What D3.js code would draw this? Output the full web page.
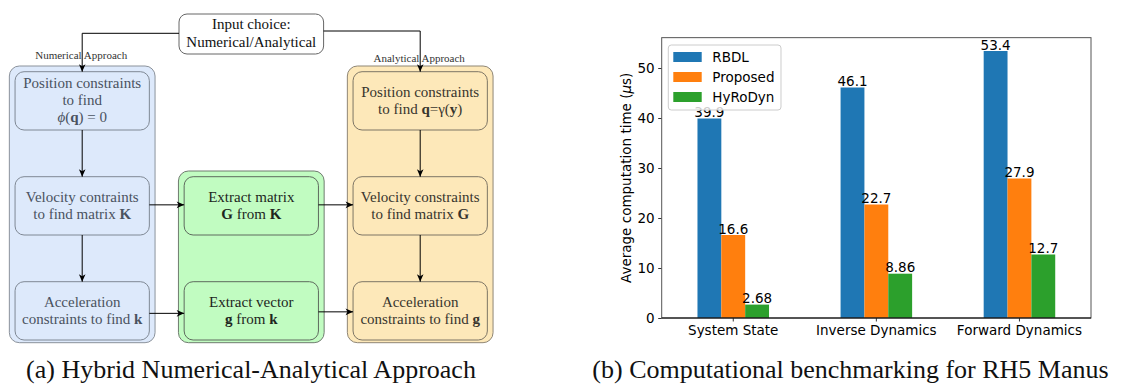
<!DOCTYPE html>
<html>
<head>
<meta charset="utf-8">
<script src="https://cdn.jsdelivr.net/npm/d3@7"></script>
<style>
body {
	margin: 0;
	background: white;
}
svg {
	display: block;
}
.diag text, .caption {
	font-family: "Liberation Serif", "Times New Roman", serif;
	fill: #111;
}
.chart text {
	font-family: "DejaVu Sans", sans-serif;
	fill: #000;
}
</style>
</head>
<body>
<div id="fig"></div>
<script>

// -- chart data

const categories = ["System State", "Inverse Dynamics", "Forward Dynamics"];
const seriesNames = ["RBDL", "Proposed", "HyRoDyn"];
const rbdl = [39.9, 46.1, 53.4];
const proposed = [16.6, 22.7, 27.9];
const hyrodyn = [2.68, 8.86, 12.7];
const yTicks = [0, 10, 20, 30, 40, 50];
const seriesColors = ["#1f77b4", "#ff7f0e", "#2ca02c"];

// -- diagram data (*bold*, _italic_)

const columns = ["numerical", "extract", "analytical"];
const numericalSteps = [
	["Position constraints", "to find", "_ϕ_(*q*) = 0"],
	["Velocity contraints", "to find matrix *K*"],
	["Acceleration", "constraints to find *k*"],
];
const extractSteps = [
	null,
	["Extract matrix", "*G* from *K*"],
	["Extract vector", "*g* from *k*"],
];
const analyticalSteps = [
	["Position constraints", "to find *q*=γ(*y*)"],
	["Velocity constraints", "to find matrix *G*"],
	["Acceleration", "constraints to find *g*"],
];
const inputLines = ["Input choice:", "Numerical/Analytical"];
const branchLabels = ["Numerical Approach", "Analytical Approach"];
const captions = ["(a) Hybrid Numerical-Analytical Approach", "(b) Computational benchmarking for RH5 Manus"];

const W = 1124, H = 387;

var svg = d3.select("#fig")
	.append("svg")
		.attr("width", W)
		.attr("height", H);

svg.append("rect")
	.attr("width", W)
	.attr("height", H)
	.attr("fill", "white");

// -- diagram

var diag = svg.append("g").attr("class", "diag");

var colX = d3.scaleOrdinal().domain(columns).range([82.2, 251.3, 420.2]);
var rowY = d3.scaleLinear().domain([0, 2]).range([71.7, 281.7]);
const boxW = 134.3, boxH = 58.3;
const fontSize = 15;

var palette = {
	numerical: {fill: "#dde9fb", outer: "#8b929b", inner: "#7f8894", text: "#4a5260"},
	extract: {fill: "#c1fcc1", outer: "#6f7c6f", inner: "#5e6a5e", text: "#1d261d"},
	analytical: {fill: "#fde8b9", outer: "#8f8675", inner: "#7d7565", text: "#38352e"},
};

var defs = svg.append("defs");
defs.append("marker")
	.attr("id", "arrow")
	.attr("viewBox", "-8 -4 9 8")
	.attr("refX", 0)
	.attr("refY", 0)
	.attr("markerWidth", 9)
	.attr("markerHeight", 8)
	.attr("markerUnits", "userSpaceOnUse")
	.attr("orient", "auto")
	.append("path")
		.attr("d", "M-7.5,-3.3 L0,0 L-7.5,3.3 L-5.5,0 Z")
		.attr("fill", "#000");

function addRich(textSel, str) {
	str.split(/(\*[^*]+\*|_[^_]+_)/).filter(s => s.length).forEach(function(part) {
		var t = textSel.append("tspan");
		if (part[0] == "*") {
			t.attr("font-weight", "bold").text(part.slice(1, -1));
		} else if (part[0] == "_") {
			t.attr("font-style", "italic").text(part.slice(1, -1));
		} else {
			t.text(part);
		}
	});
}

function drawLines(g, lines, cx, cy, color) {
	lines.forEach(function(line, i) {
		var t = g.append("text")
			.attr("x", cx)
			.attr("y", cy + (i - (lines.length - 1) / 2) * 17 + 4.5)
			.attr("text-anchor", "middle")
			.attr("font-size", fontSize)
			.style("fill", color);
		addRich(t, line);
	});
}

var stepsByCol = {numerical: numericalSteps, extract: extractSteps, analytical: analyticalSteps};

columns.forEach(function(col) {
	var steps = stepsByCol[col];
	var rows = steps.map((s, i) => i).filter(i => steps[i]);
	var c = palette[col];
	var top = rowY(rows[0]) - 5.7;
	var bottom = rowY(rows[rows.length - 1]) + boxH + 2.7;

	diag.append("rect")
		.attr("x", colX(col) - boxW / 2 - 5.7)
		.attr("y", top)
		.attr("width", boxW + 11.4)
		.attr("height", bottom - top)
		.attr("rx", 10)
		.attr("fill", c.fill)
		.attr("stroke", c.outer)
		.attr("stroke-width", 1);

	rows.forEach(function(r) {
		diag.append("rect")
			.attr("x", colX(col) - boxW / 2)
			.attr("y", rowY(r))
			.attr("width", boxW)
			.attr("height", boxH)
			.attr("rx", 9)
			.attr("fill", c.fill)
			.attr("stroke", c.inner)
			.attr("stroke-width", 1);
		drawLines(diag, steps[r], colX(col), rowY(r) + boxH / 2, c.text);
	});
});

// input choice box
var inX = colX("extract");
diag.append("rect")
	.attr("x", inX - 72.3)
	.attr("y", 14)
	.attr("width", 144.6)
	.attr("height", 40)
	.attr("rx", 8)
	.attr("fill", "white")
	.attr("stroke", "#666")
	.attr("stroke-width", 1);
inputLines.forEach(function(line, i) {
	diag.append("text")
		.attr("x", inX)
		.attr("y", 29 + i * 17.7)
		.attr("text-anchor", "middle")
		.attr("font-size", fontSize)
		.text(line);
});

// branch labels
[["numerical", 59], ["analytical", 61.7]].forEach(function(d, i) {
	diag.append("text")
		.attr("x", colX(d[0]) - 1)
		.attr("y", d[1])
		.attr("text-anchor", "middle")
		.attr("font-size", 11)
		.style("fill", "#333")
		.text(branchLabels[i]);
});

// arrows
var arrows = [];
arrows.push([[inX - 72.3, 33.3], [colX("numerical"), 33.3], [colX("numerical"), rowY(0)]]);
arrows.push([[inX + 72.3, 31], [colX("analytical"), 31], [colX("analytical"), rowY(0)]]);
["numerical", "analytical"].forEach(function(col) {
	[0, 1].forEach(function(r) {
		arrows.push([[colX(col), rowY(r) + boxH], [colX(col), rowY(r + 1)]]);
	});
});
[[1, -1, -1], [2, 2.5, 1]].forEach(function(d) {
	var cy = rowY(d[0]) + boxH / 2;
	arrows.push([[colX("numerical") + boxW / 2, cy + d[1]], [colX("extract") - boxW / 2, cy + d[1]]]);
	arrows.push([[colX("extract") + boxW / 2, cy + d[2]], [colX("analytical") - boxW / 2, cy + d[2]]]);
});

diag.selectAll(".arrow")
	.data(arrows)
	.enter()
	.append("path")
	.attr("class", "arrow")
	.attr("d", d => d3.line()(d))
	.attr("fill", "none")
	.attr("stroke", "#000")
	.attr("stroke-width", 1)
	.attr("marker-end", "url(#arrow)");

// -- bar chart

var chart = svg.append("g").attr("class", "chart");

var plot = {left: 661.7, right: 1091, bottom: 318};
var yMax = d3.max(rbdl.concat(proposed, hyrodyn)) * 1.05;

var x0 = d3.scaleBand()
	.domain(categories)
	.range([plot.left, plot.right])
	.paddingInner(0.5)
	.paddingOuter(0.25);
var x1 = d3.scaleBand()
	.domain(seriesNames)
	.range([0, x0.bandwidth()]);
var y = d3.scaleLinear()
	.domain([0, yMax])
	.range([plot.bottom, 37.65]);
var color = d3.scaleOrdinal().domain(seriesNames).range(seriesColors);

var seriesValues = [rbdl, proposed, hyrodyn];
var bars = [];
seriesNames.forEach(function(s, si) {
	categories.forEach(function(cat, ci) {
		bars.push({series: s, cat: cat, value: seriesValues[si][ci]});
	});
});

chart.selectAll(".bar")
	.data(bars)
	.enter()
	.append("rect")
	.attr("class", "bar")
	.attr("x", d => x0(d.cat) + x1(d.series))
	.attr("y", d => y(d.value))
	.attr("width", x1.bandwidth())
	.attr("height", d => y(0) - y(d.value))
	.attr("fill", d => color(d.series));

var fmt = d3.format(".3g");
chart.selectAll(".vlabel")
	.data(bars)
	.enter()
	.append("text")
	.attr("class", "vlabel")
	.attr("x", d => x0(d.cat) + x1(d.series) + x1.bandwidth() / 2)
	.attr("y", d => y(d.value) - 1.5)
	.attr("text-anchor", "middle")
	.attr("font-size", 13.5)
	.text(d => fmt(d.value));

// axes
var yAxis = chart.append("g")
	.attr("transform", "translate(" + plot.left + ",0)")
	.call(d3.axisLeft(y).tickValues(yTicks).tickSize(3.5).tickPadding(3.5));
var xAxis = chart.append("g")
	.attr("transform", "translate(0," + plot.bottom + ")")
	.call(d3.axisBottom(x0).tickSize(3.5).tickPadding(3.5));

[yAxis, xAxis].forEach(function(a) {
	a.select(".domain").remove();
	a.selectAll("text").attr("font-size", 13.5).attr("font-family", "DejaVu Sans, sans-serif").style("fill", "#000");
	a.selectAll("line").attr("stroke", "#000").attr("stroke-width", 0.8);
});

// frame
chart.append("rect")
	.attr("x", plot.left)
	.attr("y", y(yMax))
	.attr("width", plot.right - plot.left)
	.attr("height", plot.bottom - y(yMax))
	.attr("fill", "none")
	.attr("stroke", "#555")
	.attr("stroke-width", 1);
chart.append("line")
	.attr("x1", plot.left)
	.attr("x2", plot.right)
	.attr("y1", plot.bottom)
	.attr("y2", plot.bottom)
	.attr("stroke", "#000")
	.attr("stroke-width", 1);

// y label
var ylab = chart.append("text")
	.attr("transform", "translate(631," + ((plot.bottom + y(yMax)) / 2) + ") rotate(-90)")
	.attr("text-anchor", "middle")
	.attr("font-size", 13.5);
ylab.append("tspan").text("Average computation time (");
ylab.append("tspan").attr("font-style", "italic").text("μ");
ylab.append("tspan").text("s)");

// legend
var legend = chart.append("g")
	.attr("transform", "translate(668.3,45)");
legend.append("rect")
	.attr("width", 112.7)
	.attr("height", 65)
	.attr("rx", 3)
	.attr("fill", "white")
	.attr("fill-opacity", 0.8)
	.attr("stroke", "#ccc");
var items = legend.selectAll(".item")
	.data(seriesNames)
	.enter()
	.append("g")
	.attr("class", "item")
	.attr("transform", (d, i) => "translate(0," + (12 + i * 20) + ")");
items.append("rect")
	.attr("x", 5)
	.attr("y", -5)
	.attr("width", 28.4)
	.attr("height", 10)
	.attr("fill", d => color(d));
items.append("text")
	.attr("x", 44)
	.attr("dy", "0.35em")
	.attr("font-size", 13.5)
	.text(d => d);

// -- captions
svg.selectAll(".caption")
	.data(captions)
	.enter()
	.append("text")
	.attr("class", "caption")
	.attr("x", (d, i) => i == 0 ? 251 : 850.5)
	.attr("y", 378)
	.attr("text-anchor", "middle")
	.attr("font-size", 26)
	.text(d => d);

</script>
</body>
</html>
